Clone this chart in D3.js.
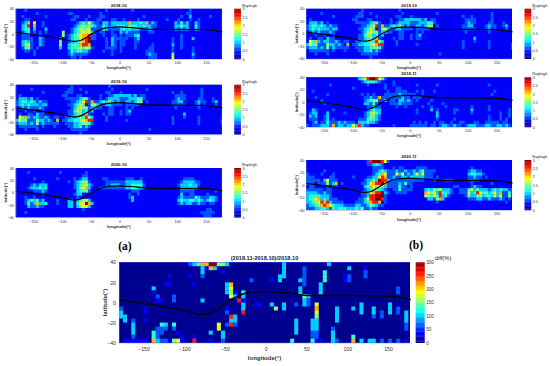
<!DOCTYPE html>
<html>
<head>
<meta charset="utf-8">
<script src="https://cdnjs.cloudflare.com/ajax/libs/d3/7.8.5/d3.min.js"></script>
<style>
html, body { margin: 0; padding: 0; background: #fff; }
svg { display: block; font-family: "Liberation Sans", Arial, sans-serif; }
</style>
</head>
<body>
<script>
"use strict";

// each row runs from -180 to 175 in 5 degree cells, top row first
// digit is a level 0-9 of the colorbar range
var oct2018 = [
"111211111111 111111111111 111111121111 111121111111 111111111111 211111111111",
"111111121111 111111221111 111112111111 111111111111 111111111112 211111111111",
"112111111121 111111112211 121112211111 111111112111 111111111211 311111121111",
"111221111111 111111122111 211122111221 121111211111 111121112111 211211111111",
"112371611211 111111111234 363221332333 333733343723 211111132423 113211111111",
"113481711211 111111112345 454322432334 443544334332 211111133433 114211111111",
"113441311131 111111123465 562222432222 343433322232 111111132323 113211111111",
"112341212121 111151123456 563112211211 323222211122 111111111111 111111111111",
"112221112111 111151234567 782211211221 212223411111 111111111211 111111111111",
"112222113211 111211234467 892211121322 222112311111 111111211211 131111111111",
"113432113211 111511233457 891111121321 221112211111 111111211211 111111111111",
"113562113211 111511345478 871111121321 221112111112 111111311211 111111111111",
"112452121111 111311344564 652111122221 211112111122 111111211211 121111111111",
"111221211111 111111243443 321111211211 211111111222 111111211111 121111111111",
"111111211111 111111232222 211111111211 111111111232 211111511111 131111111111",
"111111111111 111111122121 111111111111 111111111122 211111611111 121111111111"
];
var oct2019 = [
"111111111111 111111121111 111111112111 111111111111 111111111111 111111111111",
"111112111111 111111221121 111111111211 111111111211 111111111111 111121111111",
"111111111211 111112221111 211111122111 211111111111 111111211211 111121111111",
"121111111111 111122111221 111112112233 333323122111 111111122221 111121111111",
"133323121111 111112222234 421112123333 222333442111 111111123221 111221112111",
"234434323221 111111122346 827223435323 223323551211 111111223311 112322112311",
"234343332331 111111223464 925632233222 212222211111 111111222221 112312111211",
"123232223211 111111123565 523322112211 112121111111 111111121111 111211111111",
"111211211211 111111224653 423111112211 212311111111 111111111111 111111111111",
"121122132211 111111223453 721111212211 212211111111 111111111131 111111111111",
"164732332232 122112233454 853111121111 111111111111 111111211121 111211111111",
"364522253323 217122334456 788111121111 112111111111 111111211111 111211111112",
"233323252322 222112223345 542111111111 111111111111 111111211111 111211111112",
"122222221211 121111223342 321111111111 111111111111 111111111111 111111111111",
"111211121111 111111122222 211111111111 111111111121 111111111111 111111111111",
"111111111111 111111111121 111111111111 111111111111 111111111111 111111111111"
];
var oct2020 = [
"111111111111 111111111111 111111111111 111111111111 111111111111 111111111111",
"111121111111 111211111111 211111111111 111111111111 111111111111 111111111111",
"111111111111 111111111112 211111111111 111111111111 111111111111 111111111111",
"111111211111 112111112123 311111221111 112221121111 111111111122 221111111111",
"111111111211 111111212345 521111122222 223333331111 111111111233 332211111111",
"111112323331 111111112345 632111122333 223344442111 111111112333 433211111111",
"111123334341 111111112356 731112222222 223344332111 111111111333 333111111111",
"111111222321 111111111344 521111111111 111122211111 111111111222 221111111211",
"111111111211 111111112331 111111111111 111211211111 111111111311 221111211111",
"111211211111 111111111211 111111111111 111231111111 111111112322 224322233211",
"111234342311 112111331345 631111111111 111131111111 111111113433 443432343211",
"111242373341 112111331466 973111111111 111111111111 111111112323 322322122111",
"111132232211 111111331356 631111111111 111111111111 111111111111 111111111111",
"111111111111 111111111112 111111111111 111111111111 111111111111 111111221111",
"111211111111 111111111111 111111111111 111111111111 111111111111 111122222111",
"111111111111 111111111111 111111111111 111111111111 111111111111 111112221111"
];
var nov2018 = [
"111111111111 111111346899 864211111111 111111111111 111111111111 111111111111",
"111111111111 111111123444 321111211111 111111111111 111111111111 111111111111",
"111111112111 111111111211 111211211111 112111111211 111111111111 111211111111",
"111111111111 111121111111 111211122111 111111111111 111111111111 111111111111",
"112111111111 111111111111 111121122221 112121112111 111111111111 111112111111",
"111111121111 111111121212 111222223222 221121111111 111111111111 111121111111",
"111211111111 111111112232 272222222322 122211111111 111111111111 111111111111",
"111112111111 111111112345 522312213323 212111121111 111111111111 111111111111",
"111111211111 111111113324 211112223222 211111211112 111111111111 111111111111",
"111111111111 111111111223 221111121121 111121121111 211111111211 111211111111",
"113211111211 111111111234 331111111111 112111131211 111221111311 111211111121",
"123311131111 121111112356 431111111111 112111111311 111211111211 111111121121",
"132311231111 111111112355 321111111111 111111111311 111111111111 111211121121",
"122211231211 111111222454 321111111111 111111111211 111211111111 111211121211",
"112312242223 232221333433 211111111111 121212112122 112112211122 112222212211",
"212223332723 323363832211 111111211111 222222122123 322322123332 223322332321"
];
var nov2020 = [
"111111111111 111111111289 998621111111 111111111111 111111111111 111111111111",
"111111111111 111111111223 432111111111 111111111111 111111111111 111111111111",
"111111111111 111111111112 222111212211 112222111111 111111111211 111111111111",
"111111211111 111111111112 234322232232 232352222111 111111112332 211111111111",
"211112111211 111111111112 347622263623 236362221111 111111113443 321111111111",
"222111112211 111121111223 368722322332 433332221211 111111112232 212111111111",
"222221362221 111111112335 398832222222 222221112111 222111112222 111111111111",
"222122252371 211111122367 889722223242 211111111111 111111111211 111121111111",
"122111121221 111111113476 564322224221 211111111111 111221111232 211111111111",
"222222122111 111111112346 543211224222 211113435463 332112224635 333234343322",
"333322322111 111111122367 889321122221 111117656384 432112226348 645346372242",
"344443332111 111111122388 999211111111 111116546483 421111125335 534436362252",
"345673432221 111111223688 998211111111 111111332573 111111112223 322322232121",
"334568783222 211112223478 871211111111 111111111211 111111111111 111111111211",
"233457876433 322223322354 322111111111 111111111111 111111111111 111111111111",
"222334438434 443334352232 211111111111 111111111111 111111111111 111111111111"
];
var diff = [
"000000000000 000002347799 553000000000 000030000000 000300000000 000000000000",
"000000000000 000000003173 000000000000 000030000200 000000003000 100000000000",
"000000000000 000000003000 010000000000 000030000200 004000000000 200000000000",
"000000000000 100001002000 000000000000 000330000200 004000012000 200000000000",
"000000000000 000000000000 000000002000 010300003200 004000012000 000000000000",
"000000000001 100000100000 003700000000 000000000200 030000000000 000000000000",
"000000003000 000000000000 003600000000 000000003000 030000000000 000000002000",
"000000001000 000000000000 003510400000 000000003000 030000000000 000000002000",
"000000000200 020000000000 000630300000 000000000530 000000000000 000000000000",
"000000000110 020000003000 000008100000 000000000320 000000000000 000000000000",
"000000000000 000000000000 000000300110 030030020320 600000000003 000000300000",
"200000100000 000000000000 001000300000 005030000000 700003000303 003000302000",
"300000100000 000000000000 002000800000 000000000000 600003000003 003020302030",
"330000000000 000000000000 000830000000 000000000000 500003000000 002020000030",
"030200100000 000000000000 000330000000 000000030003 300003000000 000000000030",
"000300000043 040000000000 602820000000 000000030003 300000000000 000000000020",
"000300000222 020000000000 600000000000 000000030003 300020000000 000000000020",
"000300004220 001000000030 030000000000 000000030002 200030000000 000000000000",
"000200004200 000100100000 030000000000 000000000002 200030000400 000000000000",
"011111107322 156100800010 020000000000 000000400004 110032000703 033020202010"
];

// share of the colorbar range for each digit in the grids
var levels = [0, 0.12, 0.21, 0.33, 0.42, 0.5, 0.6, 0.7, 0.85, 1];

// magnetic equator
var equatorLon = [-180, -150, -120, -100, -80, -70, -60, -50, -40, -30, -20, 0, 20, 40, 50, 100, 150, 165, 178];
var equatorLat = [2.5, -1, -5, -8, -12, -11, -7, -1, 4, 8, 10, 11, 10, 8, 7, 7, 6.5, 5, 3];

var lonTicks = [-150, -100, -50, 0, 50, 100, 150];
var latTicks = [-40, -20, 0, 20, 40];
var rayleighTicks = [0, 0.5, 1, 1.5, 2, 2.5, 3];
var diffTicks = [0, 50, 100, 150, 200, 250, 300];

var jetStops = ["#00008f", "#0000ff", "#00ffff", "#ffff00", "#ff0000", "#800000"];
var jetDomain = [0, 0.125, 0.375, 0.625, 0.875, 1];

var jet = d3.scaleLinear().domain(jetDomain).range(jetStops);

var svg = d3.select("body").append("svg")
	.attr("width", 550)
	.attr("height", 366);

var defs = svg.append("defs");
defs.append("filter").attr("id", "soft").append("feGaussianBlur").attr("stdDeviation", 0.55);
defs.append("filter").attr("id", "softer").append("feGaussianBlur").attr("stdDeviation", 0.3);

var panels = [
	{title: "2018.10", grid: oct2018, left: 15.7, top: 8.7, height: 50.3},
	{title: "2019.10", grid: oct2019, left: 15.7, top: 84.7, height: 49.6},
	{title: "2020.10", grid: oct2020, left: 15.7, top: 168, height: 49.3},
	{title: "2019.10", grid: oct2019, left: 306, top: 8.7, height: 50},
	{title: "2018.11", grid: nov2018, left: 306, top: 77.3, height: 49.7},
	{title: "2020.11", grid: nov2020, left: 306, top: 160, height: 50}
];

panels.forEach(function(p, i) {
	drawPanel({
		id: i,
		title: p.title,
		grid: p.grid,
		left: p.left,
		top: p.top,
		width: 206,
		height: p.height,
		barGap: 12.6,
		barWidth: 6.6,
		maxValue: 3,
		barTicks: rayleighTicks,
		barLabel: "Rayleigh",
		barLabelX: 1,
		tickFont: 3.9,
		tickPadX: 2.6,
		tickPadY: 1.7,
		labelFont: 4.3,
		labelX: -10,
		labelY: 10.5,
		titleFont: 4.4,
		barFont: 3.8,
		barLabelFont: 3.9,
		filter: "url(#soft)",
		lineWidth: 1.2
	});
});

drawPanel({
	id: 6,
	title: "(2018.11-2018.10)/2018.10",
	grid: diff,
	left: 119,
	top: 262.3,
	width: 291,
	height: 80.4,
	barGap: 5.7,
	barWidth: 9,
	maxValue: 300,
	barTicks: diffTicks,
	barLabel: "diff(%)",
	barLabelX: 10,
	tickFont: 5.2,
	tickPadX: 4.7,
	tickPadY: 3,
	labelFont: 6,
	labelX: -14,
	labelY: 17,
	titleFont: 5.6,
	barFont: 4.6,
	barLabelFont: 5.8,
	filter: "url(#softer)",
	lineWidth: 1.5
});

svg.append("text").attr("x", 125).attr("y", 250)
	.attr("text-anchor", "middle")
	.style("font-family", "'Liberation Serif', serif").style("font-size", "11.5px").style("font-weight", "bold")
	.text("(a)");
svg.append("text").attr("x", 416).attr("y", 249)
	.attr("text-anchor", "middle")
	.style("font-family", "'Liberation Serif', serif").style("font-size", "11.5px").style("font-weight", "bold")
	.text("(b)");

function drawPanel(o) {
	var x = d3.scaleLinear().domain([-180, 177]).range([0, o.width]);
	var y = d3.scaleLinear().domain([-40, 40]).range([o.height, 0]);
	var rows = d3.scaleBand().domain(d3.range(o.grid.length)).range([0, o.height]);
	var color = function(v) { return jet(v / o.maxValue); };

	var cells = [];
	o.grid.forEach(function(row, r) {
		row.replace(/ /g, "").split("").forEach(function(ch, c) {
			cells.push({row: r, lon: -180 + c * 5, value: levels[+ch] * o.maxValue});
		});
	});

	var g = svg.append("g").attr("transform", "translate(" + o.left + "," + o.top + ")");

	defs.append("clipPath").attr("id", "clip" + o.id)
		.append("rect").attr("width", o.width).attr("height", o.height);

	g.append("rect").attr("width", o.width).attr("height", o.height).attr("fill", jet(0.1));

	g.append("g").attr("clip-path", "url(#clip" + o.id + ")")
		.append("g").attr("filter", o.filter)
		.selectAll("rect")
		.data(cells)
		.enter()
		.append("rect")
		.attr("x", function(d) { return x(d.lon); })
		.attr("y", function(d) { return rows(d.row); })
		.attr("width", x(5) - x(0) + 0.3)
		.attr("height", rows.bandwidth() + 0.3)
		.attr("fill", function(d) { return color(d.value); });

	// equator line
	var line = d3.line().curve(d3.curveMonotoneX)
		.x(function(d) { return x(d[0]); })
		.y(function(d) { return y(d[1]); });
	g.append("path")
		.datum(d3.zip(equatorLon, equatorLat))
		.attr("d", line)
		.attr("fill", "none")
		.attr("stroke", "#050505")
		.attr("stroke-width", o.lineWidth);

	// axes
	var xAxis = g.append("g").attr("transform", "translate(0," + o.height + ")")
		.call(d3.axisBottom(x).tickValues(lonTicks).tickSize(0).tickPadding(o.tickPadX).tickFormat(d3.format("d")));
	var yAxis = g.append("g")
		.call(d3.axisLeft(y).tickValues(latTicks).tickSize(0).tickPadding(o.tickPadY).tickFormat(d3.format("d")));
	[xAxis, yAxis].forEach(function(a) {
		a.select(".domain").attr("stroke", "#6f86c8").attr("stroke-width", 0.4);
		a.selectAll("text").style("font-size", o.tickFont + "px").attr("fill", "#333");
	});

	g.append("text").attr("x", o.width / 2).attr("y", -2.2)
		.attr("text-anchor", "middle")
		.style("font-size", o.titleFont + "px").style("font-weight", "bold").attr("fill", "#222")
		.text(o.title);
	g.append("text").attr("x", o.width / 2).attr("y", o.height + o.labelY)
		.attr("text-anchor", "middle")
		.style("font-size", o.labelFont + "px").style("font-weight", "bold").attr("fill", "#333")
		.text("longitude(°)");
	g.append("text")
		.attr("transform", "translate(" + o.labelX + "," + (o.height / 2) + ") rotate(-90)")
		.attr("text-anchor", "middle")
		.attr("dy", "0.35em")
		.style("font-size", o.labelFont + "px").style("font-weight", "bold").attr("fill", "#333")
		.text("latitude(°)");

	// colorbar
	var barX = o.width + o.barGap;
	var bar = g.append("g").attr("transform", "translate(" + barX + ",0)");
	var barScale = d3.scaleLinear().domain([0, o.maxValue]).range([o.height, 0]);
	var steps = d3.range(64).map(function(i) { return i / 64 * o.maxValue; });
	bar.selectAll("rect")
		.data(steps)
		.enter()
		.append("rect")
		.attr("x", 0)
		.attr("y", function(d) { return barScale(d) - o.height / 64; })
		.attr("width", o.barWidth)
		.attr("height", o.height / 64 + 0.3)
		.attr("fill", function(d) { return color(d); });
	var barAxis = bar.append("g").attr("transform", "translate(" + o.barWidth + ",0)")
		.call(d3.axisRight(barScale).tickValues(o.barTicks).tickSize(0).tickPadding(1.5).tickFormat(d3.format("")));
	barAxis.select(".domain").remove();
	barAxis.selectAll("text").style("font-size", o.barFont + "px").attr("fill", "#333");
	bar.append("text").attr("x", o.barWidth + o.barLabelX).attr("y", -2.2)
		.style("font-size", o.barLabelFont + "px").attr("fill", "#222")
		.text(o.barLabel);
}
</script>
</body>
</html>
